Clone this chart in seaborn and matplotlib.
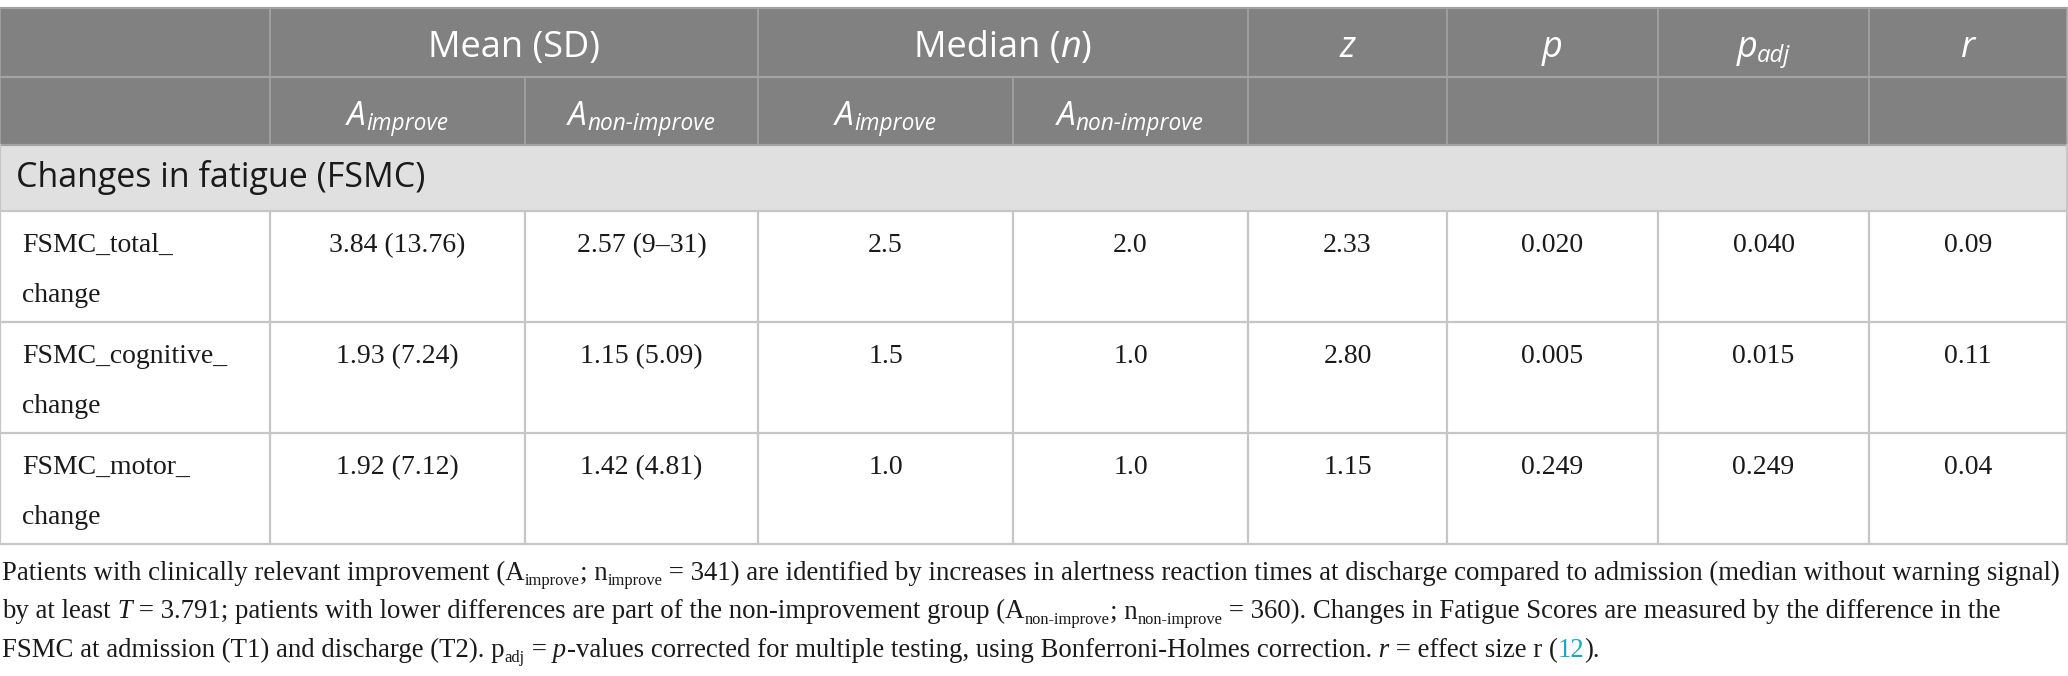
import numpy as np
import pandas as pd
import seaborn as sns
import matplotlib.pyplot as plt
from matplotlib.patches import Rectangle

# table content
section = 'Changes in fatigue (FSMC)'
row_labels = [('FSMC_total_', 'change'),
              ('FSMC_cognitive_', 'change'),
              ('FSMC_motor_', 'change')]
mean_improve = ['3.84 (13.76)', '1.93 (7.24)', '1.92 (7.12)']
mean_nonimprove = ['2.57 (9–31)', '1.15 (5.09)', '1.42 (4.81)']
median_improve = [2.5, 1.5, 1.0]
median_nonimprove = [2.0, 1.0, 1.0]
z_vals = [2.33, 2.80, 1.15]
p_vals = [0.020, 0.005, 0.249]
p_adj = [0.040, 0.015, 0.249]
r_vals = [0.09, 0.11, 0.04]

table = pd.DataFrame({
    'mean_imp': mean_improve,
    'mean_non': mean_nonimprove,
    'med_imp': ['%.1f' % v for v in median_improve],
    'med_non': ['%.1f' % v for v in median_nonimprove],
    'z': ['%.2f' % v for v in z_vals],
    'p': ['%.3f' % v for v in p_vals],
    'p_adj': ['%.3f' % v for v in p_adj],
    'r': ['%.2f' % v for v in r_vals],
})

sns.set_theme(style='white')
plt.rcParams['font.family'] = ['Liberation Serif', 'DejaVu Serif']

W, H = 2068, 676
fig = plt.figure(figsize=(W / 100, H / 100), dpi=100)
ax = fig.add_axes([0, 0, 1, 1])
ax.set_xlim(0, W)
ax.set_ylim(H, 0)
ax.axis('off')
rend = fig.canvas.get_renderer()

# geometry (pixels)
cols = [0, 270, 525, 758, 1013, 1248, 1447, 1658, 1869, 2067]
y_top, y_h1, y_h2, y_sec = 8, 77, 145, 211
row_h = 111
HEAD = '#808180'
HEAD_LINE = '#a2a3a2'
SEC = '#e1e0e1'
GRID = '#c6c6c6'
INK = '#1a1a1a'
SANS = ['Open Sans', 'DejaVu Sans']


def runs(x, y, parts, ha='left', **base):
    # draw text pieces one after another on a common baseline
    items = []
    cur = x
    for s, kw in parts:
        kw = {**base, **kw}
        dy = kw.pop('dy', 0)
        t = ax.text(cur, y + dy, s, ha='left', va='baseline', **kw)
        cur += t.get_window_extent(rend).width
        items.append(t)
    total = cur - x
    if ha == 'center':
        for t in items:
            px, py = t.get_position()
            t.set_position((px - total / 2, py))
    return total, items


# backgrounds
ax.add_patch(Rectangle((0, y_top), cols[-1], y_h2 - y_top, color=HEAD, lw=0))
ax.add_patch(Rectangle((0, y_h2), cols[-1], y_sec - y_h2, color=SEC, lw=0))

# header lines
for y in [y_top, y_h1, y_h2]:
    ax.plot([0, cols[-1]], [y, y], color=HEAD_LINE, lw=1.6)
for x in [0, 270, 758, 1248, 1447, 1658, 1869, 2067]:
    ax.plot([x, x], [y_top, y_h2], color=HEAD_LINE, lw=1.2)
for x in [525, 1013]:
    ax.plot([x, x], [y_h1, y_h2], color=HEAD_LINE, lw=1.2)

# section + body lines
y_end = y_sec + 3 * row_h
ax.plot([0, 0], [y_h2, y_end], color=GRID, lw=1.6)
ax.plot([cols[-1], cols[-1]], [y_h2, y_end], color=GRID, lw=1.6)
ax.plot([0, cols[-1]], [y_sec, y_sec], color=GRID, lw=1.6)
for i in range(1, 4):
    y = y_sec + i * row_h
    ax.plot([0, cols[-1]], [y, y], color=GRID, lw=1.6)
for x in cols[1:-1]:
    ax.plot([x, x], [y_sec, y_end], color=GRID, lw=1.6)

# header text
h1 = dict(color='white', family=SANS, fontsize=26)
h2 = dict(color='white', family=SANS, fontsize=24)
it = dict(style='italic')
sub1 = dict(style='italic', fontsize=26 * 0.66, dy=5)
sub2 = dict(style='italic', fontsize=24 * 0.68, dy=5)
mid = lambda a, b: (cols[a] + cols[b]) / 2
runs(mid(1, 3), 57, [('Mean (SD)', {})], ha='center', **h1)
runs(mid(3, 5), 57, [('Median (', {}), ('n', it), (')', {})], ha='center', **h1)
runs(mid(5, 6), 57, [('z', it)], ha='center', **h1)
runs(mid(6, 7), 57, [('p', it)], ha='center', **h1)
runs(mid(7, 8), 57, [('p', it), ('adj', sub1)], ha='center', **h1)
runs(mid(8, 9), 57, [('r', it)], ha='center', **h1)
for a in [1, 3]:
    runs(mid(a, a + 1), 125, [('A', it), ('improve', sub2)], ha='center', **h2)
    runs(mid(a + 1, a + 2), 125, [('A', it), ('non-improve', sub2)], ha='center', **h2)

ax.text(16, 187, section, family=SANS, fontsize=24.5, color=INK, va='baseline')

# body
bsize = 20
for i, (l1, l2) in enumerate(row_labels):
    yb = y_sec + i * row_h + 41
    ax.text(22, yb, l1, fontsize=bsize, color=INK, va='baseline')
    ax.text(22, yb + 50, l2, fontsize=bsize, color=INK, va='baseline')
    for j, col in enumerate(table.columns):
        ax.text(mid(j + 1, j + 2), yb, table.loc[i, col], fontsize=bsize,
                color=INK, ha='center', va='baseline')

# caption
n = {}
ci = dict(style='italic')
lines = [
    [('Patients with clinically relevant improvement (A', n), ('improve', 'sub'), ('; n', n),
     ('improve', 'sub'),
     (' = 341) are identified by increases in alertness reaction times at discharge compared to admission (median without warning signal)', n)],
    [('by at least', n), (' T', ci),
     (' = 3.791; patients with lower differences are part of the non-improvement group (A', n),
     ('non-improve', 'sub'), ('; n', n), ('non-improve', 'sub'),
     (' = 360). Changes in Fatigue Scores are measured by the difference in the', n)],
    [('FSMC at admission (T1) and discharge (T2). p', n), ('adj', 'sub'), (' =', n), (' p', ci),
     ('-values corrected for multiple testing, using Bonferroni-Holmes correction.', n),
     (' r', ci), (' = effect size r (', n), ('12', dict(color='#1fa7bd')), (').', n)],
]


def cap_parts(parts, size):
    out = []
    for s, kw in parts:
        if kw == 'sub':
            kw = dict(fontsize=size * 0.62, dy=5)
        out.append((s, kw))
    return out


# fit caption font so the first line fills the width as in the source
probe = 18
w, probe_items = runs(0, 300, cap_parts(lines[0], probe), fontsize=probe, color=INK)
for t in probe_items:
    t.remove()
csize = probe * 2054 / w
for k, parts in enumerate(lines):
    runs(2, 580 + 38.5 * k, cap_parts(parts, csize), fontsize=csize, color=INK)

fig.savefig('out.png', dpi=100)
